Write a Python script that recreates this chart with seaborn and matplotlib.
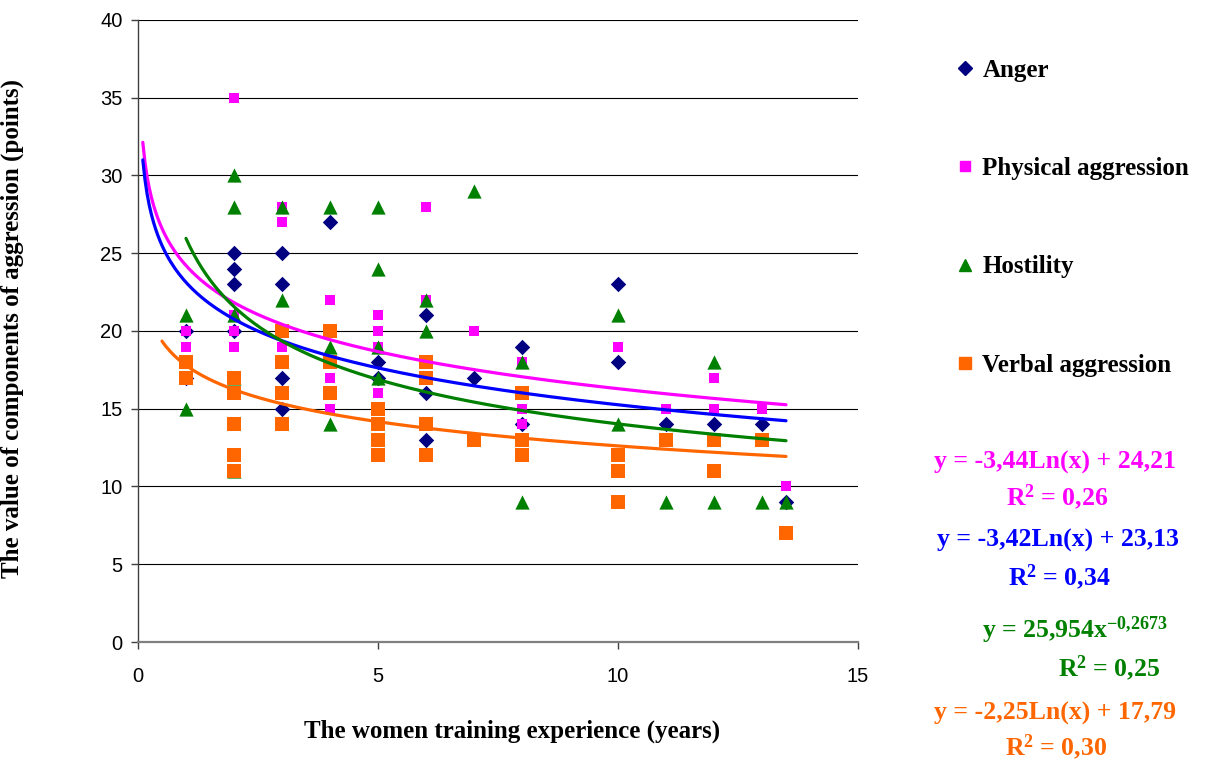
import numpy as np
import pandas as pd
import matplotlib
matplotlib.use("Agg")
import matplotlib.pyplot as plt
import seaborn as sns
from matplotlib.lines import Line2D

sns.set_theme(style="white")
plt.rcParams['font.family'] = ['Liberation Sans', 'DejaVu Sans']
plt.rcParams['text.color'] = 'black'
plt.rcParams['axes.labelcolor'] = 'black'
plt.rcParams['mathtext.fontset'] = 'custom'
plt.rcParams['mathtext.rm'] = 'Liberation Serif:bold'
plt.rcParams['mathtext.it'] = 'Liberation Serif:bold'
plt.rcParams['mathtext.bf'] = 'Liberation Serif:bold'

# ---------------- data ----------------
anger_x = [1, 1, 2, 2, 2, 2, 3, 3, 3, 3, 4, 5, 5, 6, 6, 6, 7, 8, 8, 10, 10, 11, 12, 13, 13.5]
anger_y = [20, 17, 25, 24, 23, 20, 25, 23, 17, 15, 27, 18, 17, 21, 16, 13, 17, 19, 14, 23, 18, 14, 14, 14, 9]

phys_x = [1, 1, 2, 2, 2, 2, 3, 3, 3, 3, 4, 4, 4, 5, 5, 5, 5, 6, 6, 6, 6, 7, 8, 8, 8, 10, 11, 12, 12, 13, 13.5]
phys_y = [20, 19, 35, 21, 20, 19, 28, 27, 19, 18, 22, 17, 15, 21, 20, 19, 16, 28, 22, 18, 14, 20, 18, 15, 14, 19, 15, 17, 15, 15, 10]

host_x = [1, 1, 2, 2, 2, 2, 2, 3, 3, 4, 4, 4, 5, 5, 5, 5, 6, 6, 7, 8, 8, 10, 10, 11, 12, 12, 13, 13.5]
host_y = [21, 15, 30, 28, 21, 17, 11, 28, 22, 28, 19, 14, 28, 24, 19, 17, 22, 20, 29, 18, 9, 21, 14, 9, 18, 9, 9, 9]

verb_x = [1, 1, 2, 2, 2, 2, 2, 3, 3, 3, 3, 4, 4, 4, 5, 5, 5, 5, 6, 6, 6, 6, 7, 8, 8, 8, 10, 10, 10, 11, 12, 12, 13, 13.5]
verb_y = [18, 17, 17, 16, 14, 12, 11, 20, 18, 16, 14, 20, 18, 16, 15, 14, 13, 12, 18, 17, 14, 12, 13, 16, 13, 12, 12, 11, 9, 13, 13, 11, 13, 7]

series_names = ["Anger", "Physical aggression", "Hostility", "Verbal aggression"]

# trend line coefficients (as printed on the chart)
phys_log = [-3.44, 24.21]
anger_log = [-3.42, 23.13]
host_pow = [25.954, -0.2673]
verb_log = [-2.25, 17.79]
trend_start = [0.1, 0.1, 1.0, 0.5]   # phys, anger, host, verb
trend_end = 13.5

eq_texts = ["y = -3,44Ln(x) + 24,21", "R$^{2}$ = 0,26",
            "y = -3,42Ln(x) + 23,13", "R$^{2}$ = 0,34",
            "y = 25,954x$^{\\mathrm{-0{,}2673}}$", "R$^{2}$ = 0,25",
            "y = -2,25Ln(x) + 17,79", "R$^{2}$ = 0,30"]

# ---------------- figure ----------------
W, H = 1210, 762
fig = plt.figure(figsize=(W / 100, H / 100), dpi=100)
ax = fig.add_axes([138 / W, 1 - 642 / H, (858 - 138) / W, (642 - 20) / H])

df = pd.concat([
    pd.DataFrame({"x": anger_x, "y": anger_y, "s": series_names[0]}),
    pd.DataFrame({"x": phys_x, "y": phys_y, "s": series_names[1]}),
    pd.DataFrame({"x": host_x, "y": host_y, "s": series_names[2]}),
    pd.DataFrame({"x": verb_x, "y": verb_y, "s": series_names[3]}),
])

styles = {
    "Anger": dict(marker="D", color="#000080", s=62),
    "Physical aggression": dict(marker="s", color="#FF00FF", s=50),
    "Hostility": dict(marker="^", color="#008000", s=105),
    "Verbal aggression": dict(marker="s", color="#FF6600", s=88),
}
for name in series_names:
    st = styles[name]
    sns.scatterplot(data=df[df["s"] == name], x="x", y="y", ax=ax,
                    marker=st["marker"], color=st["color"], s=st["s"],
                    linewidth=0, zorder=3, legend=False)

# trend lines
def logfit(c, x0):
    xx = np.linspace(x0, trend_end, 300)
    return xx, c[0] * np.log(xx) + c[1]

xx, yy = logfit(phys_log, trend_start[0])
sns.lineplot(x=xx, y=yy, ax=ax, color="#FF00FF", lw=2.3, zorder=4)
xx, yy = logfit(anger_log, trend_start[1])
sns.lineplot(x=xx, y=yy, ax=ax, color="#0000FF", lw=2.3, zorder=4)
xx = np.linspace(trend_start[2], trend_end, 300)
sns.lineplot(x=xx, y=host_pow[0] * xx ** host_pow[1], ax=ax, color="#008000", lw=2.3, zorder=4)
xx, yy = logfit(verb_log, trend_start[3])
sns.lineplot(x=xx, y=yy, ax=ax, color="#FF6600", lw=2.3, zorder=4)

ax.set_xlim(0, 15)
ax.set_ylim(0, 40)
ax.set_xticks([0, 5, 10, 15])
ax.set_yticks(range(0, 41, 5))
ax.yaxis.grid(True, color="black", lw=0.8)
ax.xaxis.grid(False)
ax.set_axisbelow(True)
for sp in ["top", "right"]:
    ax.spines[sp].set_visible(False)
ax.spines["left"].set_color("#404040")
ax.spines["left"].set_linewidth(1.0)
ax.spines["bottom"].set_color("#808080")
ax.spines["bottom"].set_linewidth(1.6)
ax.tick_params(axis="both", which="major", direction="out", length=5, width=1,
               color="#404040", labelsize=14.5, labelcolor="black", left=True, bottom=True)
ax.tick_params(axis="x", pad=13)
ax.tick_params(axis="y", pad=6)

serif_bold = dict(family=["Liberation Serif", "DejaVu Serif"], weight="bold")
ax.set_xlabel("The women training experience (years)", fontsize=18, color="black", **serif_bold)
ax.set_ylabel("The value of components of aggression (points)", fontsize=18, color="black", **serif_bold)
ax.xaxis.set_label_coords((512 - 138) / 720, (642 - 720) / 622)
ax.yaxis.set_label_coords((24 - 138) / 720, (642 - 328) / 622)

# legend
handles = [Line2D([], [], ls="none", marker=styles[n]["marker"], color=styles[n]["color"],
                  markersize={"Anger": 7, "Physical aggression": 7, "Hostility": 8, "Verbal aggression": 8}[n])
           for n in series_names]
leg = fig.legend(handles, series_names, loc="upper left", bbox_to_anchor=(935 / W, 1 - 36 / H),
                 frameon=False, labelspacing=3.02, handlelength=0.6, handletextpad=0.4,
                 prop=dict(family=["Liberation Serif"], weight="bold", size=18))

# equations
eq_colors = ["#FF00FF", "#FF00FF", "#0000FF", "#0000FF", "#008000", "#008000", "#FF6600", "#FF6600"]
eq_pos = [(1055, 462), (1057, 497), (1058, 540), (1059, 577),
          (1075, 630), (1109, 668), (1055, 713), (1056, 747)]
for t, c, (px, py) in zip(eq_texts, eq_colors, eq_pos):
    fig.text(px / W, 1 - py / H, t, color=c, ha="center", va="center", fontsize=18.5, **serif_bold)

fig.savefig("out.png", dpi=100, facecolor="white")
